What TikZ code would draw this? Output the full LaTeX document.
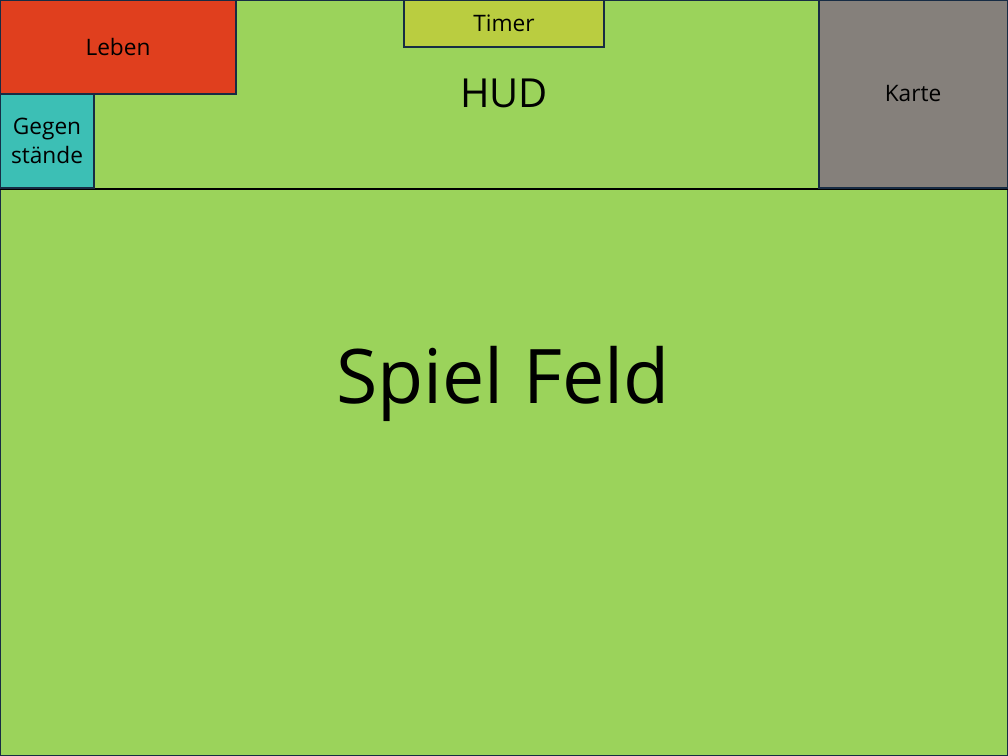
\documentclass[tikz,border=0pt]{standalone}
\usepackage{fontspec}
\setmainfont{Open Sans}
\definecolor{hudgreen}{HTML}{9BD35B}
\definecolor{lebenred}{HTML}{E03F1E}
\definecolor{itemteal}{HTML}{3CBFB5}
\definecolor{timergreen}{HTML}{BACD40}
\definecolor{mapgray}{HTML}{85807B}
\definecolor{edgenavy}{HTML}{172C44}
\tikzset{
  panel/.style={draw=edgenavy, line width=0.9pt, inner sep=0pt, outer sep=0pt, anchor=north west, text=black},
  smalllabel/.style={font=\fontsize{17}{21.5}\selectfont, align=center, text=black, inner sep=0pt},
}
\begin{document}
\begin{tikzpicture}[x=0.75pt, y=-0.75pt]
\useasboundingbox (0,0) rectangle (1008,756);
% HUD area
\node[panel, fill=hudgreen, minimum width=756pt, minimum height=141.75pt] (hud) at (0,0) {};
\node[font=\fontsize{30}{36}\selectfont, inner sep=0pt, anchor=base] (hudlabel) at (504,108) {HUD};
% Play field
\node[panel, fill=hudgreen, minimum width=756pt, minimum height=425.25pt] (feld) at (0,189) {};
\node[font=\fontsize{56.5}{66}\selectfont, inner sep=0pt, anchor=base] (feldlabel) at (503,403) {Spiel Feld};
\draw[black, line width=1.8pt] (feld.north west) -- (feld.north east);
% Leben
\node[panel, fill=lebenred, minimum width=177pt, minimum height=70.5pt] (leben) at (0,0) {};
\node[smalllabel] (lebenlabel) at (leben.center) {Leben};
% Gegenstaende
\node[panel, fill=itemteal, minimum width=70.5pt, minimum height=70.5pt] (items) at (0,94) {};
\node[smalllabel] (itemslabel) at (items.center) {Gegen\\stände};
% Timer
\node[panel, fill=timergreen, minimum width=150pt, minimum height=35.25pt] (timer) at (404,0) {};
\node[smalllabel] (timerlabel) at (timer.center) {Timer};
% Karte
\node[panel, fill=mapgray, minimum width=141.75pt, minimum height=141pt] (karte) at (819,0) {};
\node[smalllabel, anchor=base] (kartelabel) at (913,101.5) {Karte};
\end{tikzpicture}
\end{document}
